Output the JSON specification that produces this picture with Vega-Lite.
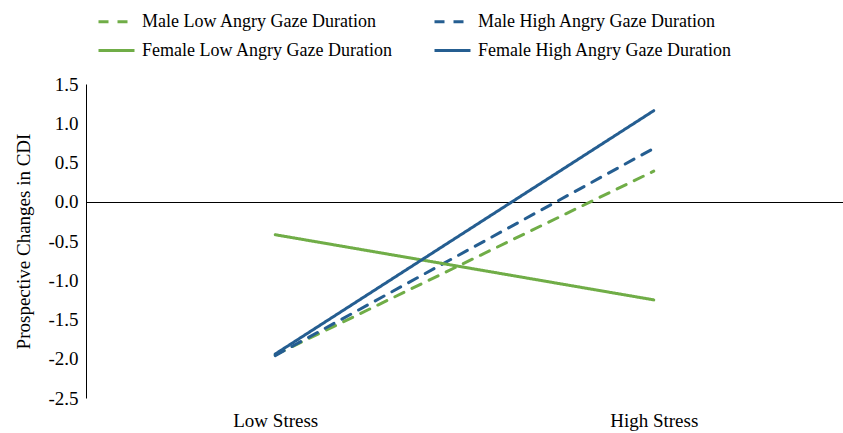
{
  "$schema": "https://vega.github.io/schema/vega-lite/v6.json",
  "width": 757,
  "height": 314,
  "autosize": {"type": "none"},
  "padding": {"left": 86, "top": 84, "right": 0, "bottom": 35},
  "background": "white",
  "config": {
    "view": {"stroke": null},
    "font": "Liberation Serif",
    "axis": {"labelFont": "Liberation Serif", "titleFont": "Liberation Serif"},
    "legend": {"labelFont": "Liberation Serif"}
  },
  "data": {
    "values": [
      {"stress": "Low Stress", "group": "Male Low Angry Gaze Duration", "cdi": -1.95},
      {"stress": "High Stress", "group": "Male Low Angry Gaze Duration", "cdi": 0.39},
      {"stress": "Low Stress", "group": "Male High Angry Gaze Duration", "cdi": -1.96},
      {"stress": "High Stress", "group": "Male High Angry Gaze Duration", "cdi": 0.68},
      {"stress": "Low Stress", "group": "Female Low Angry Gaze Duration", "cdi": -0.42},
      {"stress": "High Stress", "group": "Female Low Angry Gaze Duration", "cdi": -1.25},
      {"stress": "Low Stress", "group": "Female High Angry Gaze Duration", "cdi": -1.94},
      {"stress": "High Stress", "group": "Female High Angry Gaze Duration", "cdi": 1.16}
    ]
  },
  "mark": {"type": "line", "strokeWidth": 3, "strokeCap": "round"},
  "encoding": {
    "x": {
      "field": "stress", "type": "nominal",
      "sort": ["Low Stress", "High Stress"],
      "scale": {"type": "point", "padding": 0.5},
      "axis": {"title": null, "domain": false, "ticks": false, "labelAngle": 0, "labelFontSize": 19, "labelPadding": 13, "labelColor": "black"}
    },
    "y": {
      "field": "cdi", "type": "quantitative",
      "scale": {"domain": [-2.5, 1.5], "nice": false, "zero": false},
      "axis": {
        "title": "Prospective Changes in CDI", "titleFontSize": 19, "titleFontWeight": "normal", "titleColor": "black", "titlePadding": 14,
        "values": [-2.5, -2, -1.5, -1, -0.5, 0, 0.5, 1, 1.5],
        "labelExpr": "replace(format(datum.value, '.1f'), '\u2212', '-')",
        "labelOverlap": false,
        "labelSeparation": 0,
        "grid": true,
        "gridColor": {"expr": "datum.value == 0 ? 'black' : 'transparent'"},
        "gridWidth": 1,
        "ticks": false, "domainColor": "black", "labelFontSize": 19, "labelColor": "black", "labelPadding": 8
      }
    },
    "color": {
      "field": "group", "type": "nominal",
      "scale": {
        "domain": ["Male Low Angry Gaze Duration", "Male High Angry Gaze Duration", "Female Low Angry Gaze Duration", "Female High Angry Gaze Duration"],
        "range": ["#70AD47", "#255E91", "#70AD47", "#255E91"]
      },
      "legend": {
        "title": null, "orient": "none", "legendX": 11, "legendY": -82, "direction": "horizontal", "columns": 2,
        "symbolType": "stroke", "symbolSize": 1296, "symbolStrokeWidth": 3, "labelFontSize": 18, "labelLimit": 400, "labelColor": "black",
        "columnPadding": 35, "rowPadding": -1, "labelOffset": 6
      }
    },
    "strokeDash": {
      "field": "group", "type": "nominal",
      "scale": {
        "domain": ["Male Low Angry Gaze Duration", "Male High Angry Gaze Duration", "Female Low Angry Gaze Duration", "Female High Angry Gaze Duration"],
        "range": [[10, 9], [10, 9], [1, 0], [1, 0]]
      }
    }
  }
}
